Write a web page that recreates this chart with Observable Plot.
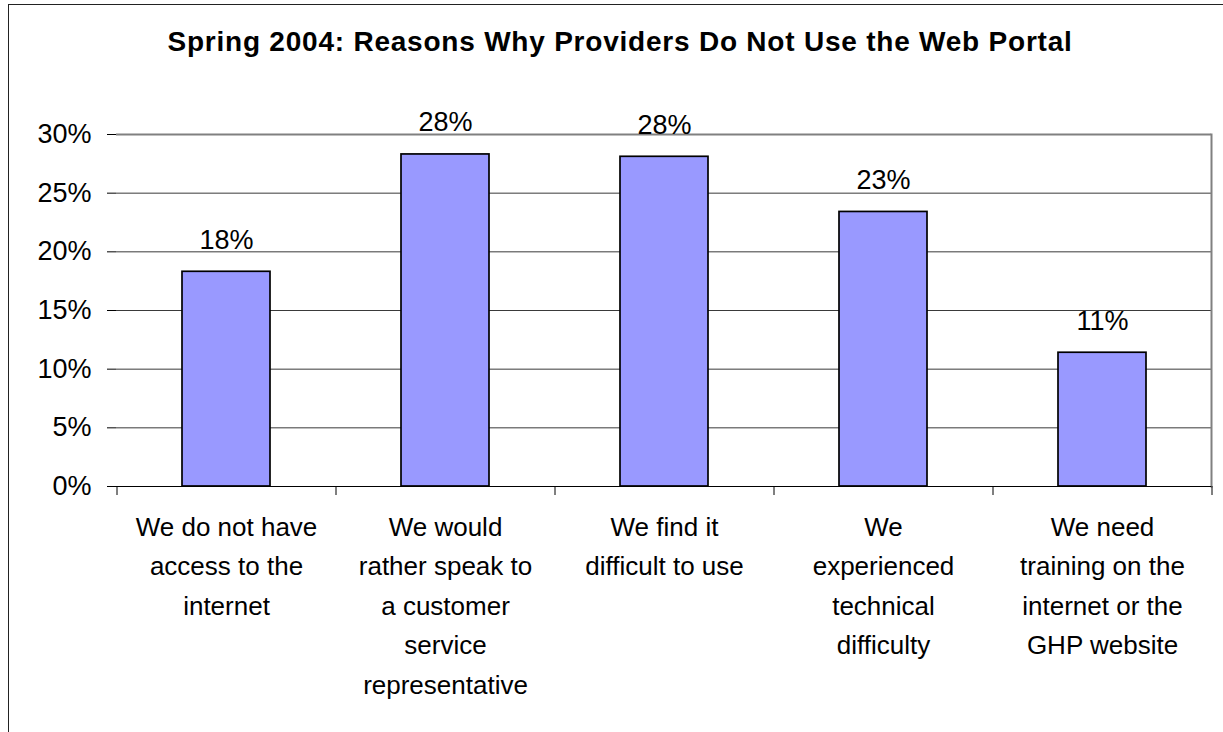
<!DOCTYPE html>
<html>
<head>
<meta charset="utf-8">
<script src="https://cdn.jsdelivr.net/npm/d3@7"></script>
<script src="https://cdn.jsdelivr.net/npm/@observablehq/plot@0.6"></script>
<style>
  html, body { margin: 0; padding: 0; background: #fff; overflow: hidden; }
  #wrap { position: relative; width: 1223px; height: 732px; overflow: hidden; font-family: "Liberation Sans", Arial, sans-serif; }
  #border { position: absolute; left: 8px; top: 3.5px; width: 1260px; height: 780px; border: 1.4px solid #222; box-sizing: border-box; pointer-events: none; }
  #title { position: absolute; left: 0; top: 28px; width: 1240px; text-align: center; font-size: 28px; line-height: 28px; font-weight: bold; letter-spacing: 0.78px; color: #000; }
  #chart { position: absolute; left: 0; top: 0; }
</style>
</head>
<body>
<div id="wrap">
  <div id="chart"></div>
  <div id="border"></div>
  <div id="title">Spring 2004: Reasons Why Providers Do Not Use the Web Portal</div>
</div>
<script>
const categories = [
  "We do not have access to the internet",
  "We would rather speak to a customer service representative",
  "We find it difficult to use",
  "We experienced technical difficulty",
  "We need training on the internet or the GHP website"
];
const categoryLines = [
  "We do not have\naccess to the\ninternet",
  "We would\nrather speak to\na customer\nservice\nrepresentative",
  "We find it\ndifficult to use",
  "We\nexperienced\ntechnical\ndifficulty",
  "We need\ntraining on the\ninternet or the\nGHP website"
];
const values = [18.3, 28.3, 28.1, 23.4, 11.4];
const yTicks = [0, 5, 10, 15, 20, 25, 30];

const data = categories.map((c, i) => ({category: c, value: values[i]}));
const labelOf = c => categoryLines[categories.indexOf(c)];

const chart = Plot.plot({
  width: 1223,
  height: 732,
  marginLeft: 116,
  marginRight: 12,
  marginTop: 134,
  marginBottom: 246,
  style: {fontFamily: "'Liberation Sans', Arial, sans-serif", background: "transparent", color: "#000"},
  x: {domain: categories, paddingInner: 0.6, paddingOuter: 0.3, label: null},
  y: {domain: [0, 30], label: null},
  marks: [
    Plot.ruleY(yTicks.filter(d => d > 0 && d < 30), {stroke: "#3a3a3a", strokeWidth: 1}),
    Plot.ruleY([30], {stroke: "#808080", strokeWidth: 2}),
    Plot.frame({anchor: "right", stroke: "#808080", strokeWidth: 2}),
    Plot.barY(data, {x: "category", y: "value", fill: "#9999FF", stroke: "#000", strokeWidth: 1.7}),
    Plot.text(data, {x: "category", y: "value", text: d => Math.round(d.value) + "%", lineAnchor: "bottom", dy: -23, fontSize: 27, fill: "#000"}),
    Plot.ruleX([0], {stroke: "#000", strokeWidth: 1.2, frameAnchor: "left", y1: 0, y2: 30}),
    Plot.ruleY([0], {stroke: "#000", strokeWidth: 1.2}),
    Plot.axisY({ticks: yTicks, tickSize: 9, tickPadding: 16, tickFormat: d => d + "%", fontSize: 27, stroke: "#000", label: null}),
    Plot.axisX({tickSize: 9, dx: -109.5, text: null, stroke: "#000", label: null}),
    Plot.axisX({ticks: [categories[categories.length - 1]], tickSize: 9, dx: 109.5, text: null, stroke: "#000", label: null}),
    Plot.axisX({tickSize: 0, tickPadding: 21, tickFormat: labelOf, fontSize: 26, lineHeight: 1.52, fill: "#000", label: null})
  ]
});
document.getElementById("chart").appendChild(chart);
</script>
</body>
</html>
